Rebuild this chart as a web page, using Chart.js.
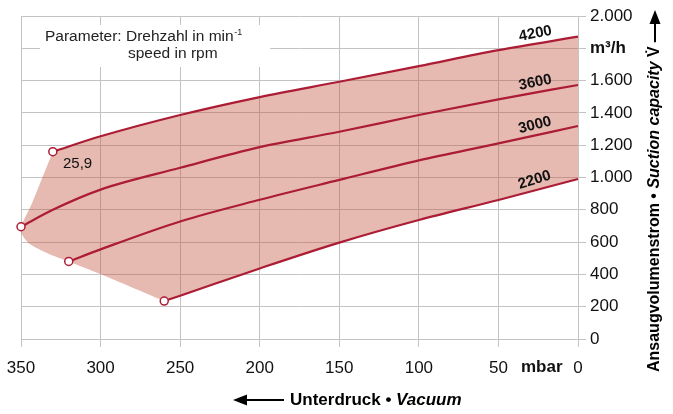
<!DOCTYPE html>
<html>
<head>
<meta charset="utf-8">
<script src="https://cdn.jsdelivr.net/npm/chart.js@4"></script>
<style>
  html, body { margin: 0; padding: 0; background: #fff; }
  #wrap { width: 673px; height: 414px; }
</style>
</head>
<body>
<div id="wrap"><canvas id="myChart"></canvas></div>
<script>
// vacuum in mbar, suction capacity in m3/h
const speeds = ['4200', '3600', '3000', '2200'];

const vac4200 = [0, 50, 100, 150, 200, 250, 300, 330];
const flow4200 = [1872, 1789, 1690, 1593, 1498, 1387, 1255, 1160];

const vac3600 = [0, 50, 100, 150, 200, 250, 300, 330, 350];
const flow3600 = [1573, 1484, 1387, 1283, 1188, 1060, 925, 800, 695];

const vac3000 = [0, 50, 100, 150, 200, 250, 300, 320];
const flow3000 = [1319, 1211, 1106, 985, 862, 728, 555, 480];

const vac2200 = [0, 50, 100, 150, 200, 250, 260];
const flow2200 = [991, 861, 737, 597, 437, 268, 235];

// left edge of the operating range (from the 4200 start round to the 2200 start)
const edgeVac = [330, 338, 344, 350, 349.5, 345, 333, 320, 296, 260];
const edgeFlow = [1160, 965, 820, 695, 650, 592, 530, 480, 386, 235];

const xTicks = [350, 300, 250, 200, 150, 100, 50, 0];
const yMax = 2000;

const red = 'rgb(172,28,52)';
const font = "'Liberation Sans', Arial, sans-serif";

const toPoints = (xs, ys) => xs.map((x, i) => ({ x: x, y: ys[i] }));

function curve(label, xs, ys) {
  const startIdx = xs.length - 1;
  return {
    label: label,
    data: toPoints(xs, ys),
    showLine: true,
    borderColor: red,
    borderWidth: 2.2,
    cubicInterpolationMode: 'monotone',
    clip: false,
    pointRadius: (c) => c.dataIndex === startIdx ? 4 : 0,
    pointBackgroundColor: '#fff',
    pointBorderColor: red,
    pointBorderWidth: 1.5,
  };
}

const series = [
  [vac4200, flow4200],
  [vac3600, flow3600],
  [vac3000, flow3000],
  [vac2200, flow2200],
];

const datasets = [
  {
    label: 'edge',
    data: toPoints(edgeVac, edgeFlow),
    showLine: true,
    borderColor: 'transparent',
    borderWidth: 0,
    tension: 0.25,
    pointRadius: 0,
  },
];
speeds.forEach((s, i) => datasets.push(curve(s, series[i][0], series[i][1])));

function fmt(v) {
  const s = String(v);
  return s.length > 3 ? s.slice(0, -3) + '.' + s.slice(-3) : s;
}

const shade = {
  id: 'shade',
  beforeDatasetsDraw(chart) {
    const ctx = chart.ctx;
    const area = chart.chartArea;
    const edge = chart.getDatasetMeta(0).dataset;
    const top = chart.getDatasetMeta(1).dataset;
    const bottom = chart.getDatasetMeta(4).dataset;
    [edge, top, bottom].forEach(l => l.updateControlPoints(area, 'x'));

    ctx.save();
    ctx.beginPath();
    top.pathSegment(ctx, top.segments[0], { move: true });
    edge.pathSegment(ctx, edge.segments[0], { move: false });
    bottom.pathSegment(ctx, bottom.segments[0], { move: false, reverse: true });
    ctx.closePath();
    ctx.fillStyle = 'rgba(192,80,60,0.4)';
    ctx.fill();

    // parameter box over the grid
    ctx.fillStyle = '#fff';
    ctx.fillRect(40, 25, 230, 42);
    ctx.fillStyle = '#222';
    ctx.font = '15.5px ' + font;
    ctx.textBaseline = 'alphabetic';
    ctx.textAlign = 'left';
    const t1 = 'Parameter: Drehzahl in min';
    ctx.fillText(t1, 45, 40.5);
    const w1 = ctx.measureText(t1).width;
    ctx.font = '9px ' + font;
    ctx.fillText('-1', 45 + w1 + 0.5, 35);
    ctx.font = '15.5px ' + font;
    ctx.fillText('speed in rpm', 128, 58);
    ctx.restore();
  },
  afterDatasetsDraw(chart) {
    const ctx = chart.ctx;
    const xs = chart.scales.x;
    const ys = chart.scales.y;
    ctx.save();

    // curve labels along each line near the right edge
    ctx.font = 'bold 15px ' + font;
    ctx.fillStyle = '#111';
    ctx.textAlign = 'center';
    ctx.textBaseline = 'middle';
    series.forEach((s, i) => {
      const px0 = xs.getPixelForValue(s[0][0]);
      const py0 = ys.getPixelForValue(s[1][0]);
      const px1 = xs.getPixelForValue(s[0][1]);
      const py1 = ys.getPixelForValue(s[1][1]);
      const ang = Math.atan2(py0 - py1, px0 - px1);
      const f = (px0 - 537) / (px0 - px1);
      const cx = px0 + (px1 - px0) * f;
      const cy = py0 + (py1 - py0) * f;
      ctx.save();
      ctx.translate(cx + Math.sin(ang) * 10, cy - Math.cos(ang) * 10);
      ctx.rotate(ang * 1.15);
      ctx.fillText(speeds[i], 0, 0);
      ctx.restore();
    });

    // value note at the 4200 start point
    ctx.font = '15px ' + font;
    ctx.textAlign = 'left';
    ctx.fillText('25,9', 63, 164);

    // unit on the x axis
    ctx.font = 'bold 17px ' + font;
    ctx.textBaseline = 'middle';
    ctx.fillText('mbar', 521, 367);

    // bottom title with arrow
    ctx.strokeStyle = '#000';
    ctx.fillStyle = '#000';
    ctx.lineWidth = 2;
    ctx.beginPath();
    ctx.moveTo(244, 400);
    ctx.lineTo(284, 400);
    ctx.stroke();
    ctx.beginPath();
    ctx.moveTo(233, 400);
    ctx.lineTo(247, 394.5);
    ctx.lineTo(247, 405.5);
    ctx.closePath();
    ctx.fill();
    let x = 290;
    ctx.font = 'bold 17px ' + font;
    ctx.fillText('Unterdruck • ', x, 400);
    x += ctx.measureText('Unterdruck • ').width;
    ctx.font = 'italic bold 17px ' + font;
    ctx.fillText('Vacuum', x, 400);

    // right title, reading upwards, with arrow
    ctx.translate(655, 372);
    ctx.rotate(-Math.PI / 2);
    x = 0;
    ctx.font = 'bold 16px ' + font;
    ctx.fillText('Ansaugvolumenstrom • ', x, 0);
    x += ctx.measureText('Ansaugvolumenstrom • ').width;
    ctx.font = 'italic bold 16px ' + font;
    ctx.fillText('Suction capacity ', x, 0);
    x += ctx.measureText('Suction capacity ').width;
    ctx.font = 'bold 16px ' + font;
    ctx.fillText('V\u0307', x, 0);
    x += ctx.measureText('V').width + 4;
    ctx.beginPath();
    ctx.moveTo(x, 0);
    ctx.lineTo(350, 0);
    ctx.stroke();
    ctx.beginPath();
    ctx.moveTo(362, 0);
    ctx.lineTo(348, -5.5);
    ctx.lineTo(348, 5.5);
    ctx.closePath();
    ctx.fill();
    ctx.restore();
  }
};

const grid = '#c3c3c3';

const config = {
  type: 'scatter',
  data: { datasets: datasets },
  options: {
    responsive: true,
    maintainAspectRatio: false,
    animation: false,
    events: [],
    layout: { padding: { left: 21, top: 16, right: 0, bottom: 0 } },
    plugins: {
      legend: { display: false },
      tooltip: { enabled: false },
    },
    scales: {
      x: {
        type: 'linear',
        reverse: true,
        min: 0,
        max: 350,
        afterFit: (scale) => {
          scale.height = 75;
          scale.paddingLeft = 0;
          scale.paddingRight = 0;
        },
        afterBuildTicks: (scale) => { scale.ticks = xTicks.map(v => ({ value: v })); },
        grid: { color: grid, lineWidth: 1, tickLength: 8 },
        border: { color: grid },
        ticks: {
          color: '#111',
          font: { family: font, size: 17 },
          padding: 11,
          maxRotation: 0,
        },
      },
      y: {
        position: 'right',
        min: 0,
        max: yMax,
        afterFit: (scale) => {
          scale.width = 95;
          scale.paddingTop = 0;
          scale.paddingBottom = 0;
        },
        grid: { color: grid, lineWidth: 1, tickLength: 8 },
        border: { color: grid },
        ticks: {
          stepSize: 200,
          color: '#111',
          padding: 4,
          font: (c) => (c.tick && c.tick.value === 1800)
            ? { family: font, size: 17, weight: 'bold' }
            : { family: font, size: 17 },
          callback: (v) => v === 1800 ? 'm³/h' : fmt(v),
        },
      },
    },
  },
  plugins: [shade],
};

const myChart = new Chart(document.getElementById('myChart').getContext('2d'), config);
</script>
</body>
</html>
